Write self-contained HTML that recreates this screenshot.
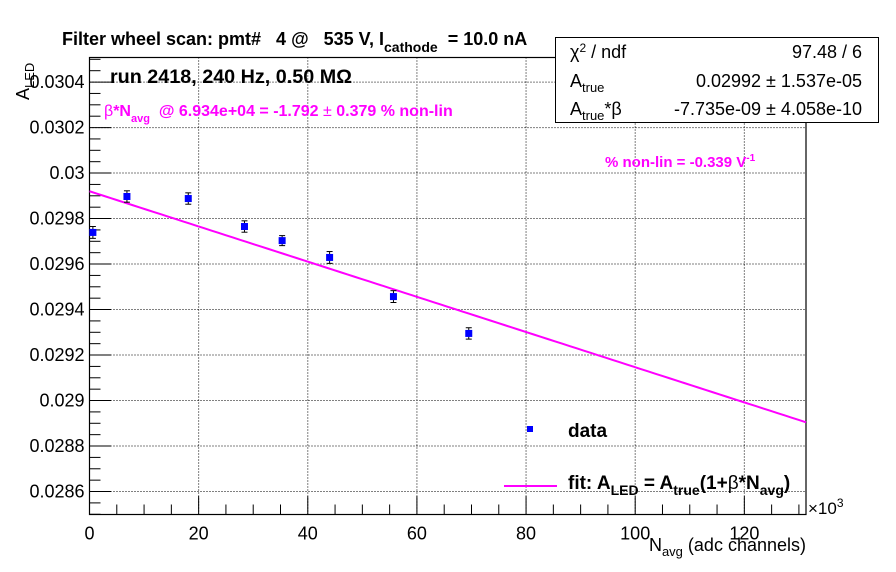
<!DOCTYPE html>
<html><head><meta charset="utf-8"><style>
body{margin:0;background:#fff}
svg{display:block;font-family:"Liberation Sans",sans-serif}
text{white-space:pre}
</style></head><body>
<svg id="c" width="896" height="572" viewBox="0 0 896 572">
<rect width="896" height="572" fill="#fff"/>
<g id="grid"></g>
<g id="axes"></g>
<g id="marks"></g>
<text x="62" y="45" font-size="18" font-weight="bold" xml:space="preserve">Filter wheel scan: pmt#   4 @   535 V, I<tspan dy="7" font-size="14">cathode</tspan><tspan dy="-7">  = 10.0 nA</tspan></text>
<text x="110" y="83" font-size="19" font-weight="bold" textLength="242" lengthAdjust="spacingAndGlyphs">run 2418, 240 Hz, 0.50 MΩ</text>
<text x="104" y="116" font-size="16" font-weight="bold" fill="#ff00ff"><tspan font-weight="normal">β</tspan>*N<tspan dy="6" font-size="11">avg</tspan><tspan dy="-6">  @ 6.934e+04 = -1.792 </tspan><tspan font-weight="normal">±</tspan> 0.379 % non-lin</text>
<text x="605" y="167" font-size="15" font-weight="bold" fill="#ff00ff">% non-lin = -0.339 V<tspan dy="-6" font-size="10">-1</tspan></text>
<g>
<rect x="555.5" y="37.5" width="323" height="85" fill="#fff" stroke="#000" stroke-width="1"/>
<text x="570" y="58" font-size="18">χ<tspan dy="-6" font-size="12">2</tspan><tspan dy="6"> / ndf</tspan></text>
<text x="862" y="58" font-size="18" text-anchor="end">97.48 / 6</text>
<text x="570" y="87" font-size="18">A<tspan dy="5" font-size="13">true</tspan></text>
<text x="862" y="87" font-size="18" text-anchor="end">0.02992 ± 1.537e-05</text>
<text x="570" y="115" font-size="18">A<tspan dy="5" font-size="13">true</tspan><tspan dy="-5">*β</tspan></text>
<text x="862" y="115" font-size="18" text-anchor="end">-7.735e-09 ± 4.058e-10</text>
</g>
<g>
<rect x="527" y="426" width="6" height="6" fill="#0000ff"/>
<text x="568" y="437" font-size="19" font-weight="bold">data</text>
<line x1="504" y1="486" x2="557" y2="486" stroke="#ff00ff" stroke-width="2"/>
<text x="568" y="489" font-size="19" font-weight="bold">fit: A<tspan dy="6" font-size="14">LED</tspan><tspan dy="-6"> = A</tspan><tspan dy="6" font-size="14">true</tspan><tspan dy="-6">(1+</tspan><tspan font-weight="normal">β</tspan>*N<tspan dy="6" font-size="14">avg</tspan><tspan dy="-6">)</tspan></text>
</g>
<text x="808" y="514" font-size="17">×10<tspan dy="-7" font-size="12">3</tspan></text>
<text x="806" y="551" font-size="18" text-anchor="end">N<tspan dy="5" font-size="13">avg</tspan><tspan dy="-5"> (adc channels)</tspan></text>
<text transform="translate(29,100) rotate(-90)" font-size="18">A<tspan dy="5" font-size="13">LED</tspan></text>
</svg>
<script>
const xTicks=[0,20,40,60,80,100,120];
const yTicks=[0.0286,0.0288,0.029,0.0292,0.0294,0.0296,0.0298,0.03,0.0302,0.0304];
const yTickLabels=["0.0286","0.0288","0.029","0.0292","0.0294","0.0296","0.0298","0.03","0.0302","0.0304"];
const dataX=[0.62,6.86,18.1,28.4,35.3,44.0,55.7,69.5];
const dataY=[0.029739,0.029897,0.029888,0.029765,0.029703,0.029629,0.029457,0.029295];
const dataErr=[0.000026,0.000025,0.000025,0.000025,0.000022,0.000026,0.000026,0.000025];
const fitA=0.02992;
const fitAB=-7.735e-9;
const L=89.5,R=806,T=57.5,B=514.5,XMAX=131.3,YMIN=0.028499,YMAX=0.030508;
const sx=v=>L+(v/XMAX)*(R-L);
const sy=v=>B-(v-YMIN)/(YMAX-YMIN)*(B-T);
const NS="http://www.w3.org/2000/svg";
function mk(p,t,a){const e=document.createElementNS(NS,t);for(const k in a)e.setAttribute(k,a[k]);p.appendChild(e);return e;}
const grid=document.getElementById('grid'),axes=document.getElementById('axes'),marks=document.getElementById('marks');
xTicks.forEach(v=>{const x=sx(v);
 const g=mk(grid,'line',{x1:x,y1:T,x2:x,y2:B,stroke:'#000','stroke-dasharray':'1,2','stroke-width':1});
 
 
 const t=mk(axes,'text',{x:x,y:B+25,'font-size':18,'text-anchor':'middle'});t.textContent=v;
 
 
});
for(let v=0;v<=XMAX;v+=5){const x=sx(v);const big=v%20===0;
 mk(axes,'line',{x1:x,y1:B,x2:x,y2:B-(big?18:10),stroke:'#000'});}
yTicks.forEach((v,i)=>{const y=sy(v);
 const g=mk(grid,'line',{x1:L,y1:y,x2:R,y2:y,stroke:'#000','stroke-dasharray':'1,2','stroke-width':1});
 
 
 const t=mk(axes,'text',{x:L-5,y:y+6,'font-size':18,'text-anchor':'end'});t.textContent=yTickLabels[i];
 
 
});
for(let k=0;;k++){const v=0.0285+k*0.00005;if(v>YMAX)break;const y=sy(v);const big=Math.abs((v/0.0002)-Math.round(v/0.0002))<1e-6;
 mk(axes,'line',{x1:L,y1:y,x2:L+(big?22:11),y2:y,stroke:'#000'});}
const fr=mk(axes,'rect',{x:L,y:T,width:R-L,height:B-T,fill:'none',stroke:'#000','stroke-width':1.2});


let pts=[];for(let i=0;i<=100;i++){const xv=XMAX*i/100;pts.push(sx(xv)+','+sy(fitA+fitAB*xv*1000));}
const fl=mk(marks,'polyline',{points:pts.join(' '),fill:'none',stroke:'#ff00ff','stroke-width':2});


dataX.forEach((xv,i)=>{const x=sx(xv),y=sy(dataY[i]),y1=sy(dataY[i]+dataErr[i]),y2=sy(dataY[i]-dataErr[i]);
 const g=mk(marks,'g',{});
 
 
 mk(g,'line',{x1:x,y1:y1,x2:x,y2:y2,stroke:'#000'});
 mk(g,'line',{x1:x-3,y1:y1,x2:x+3,y2:y1,stroke:'#000'});
 mk(g,'line',{x1:x-3,y1:y2,x2:x+3,y2:y2,stroke:'#000'});
 mk(g,'rect',{x:x-3.5,y:y-3.5,width:7,height:7,fill:'#0000ff'});
});
</script>
</body></html>
